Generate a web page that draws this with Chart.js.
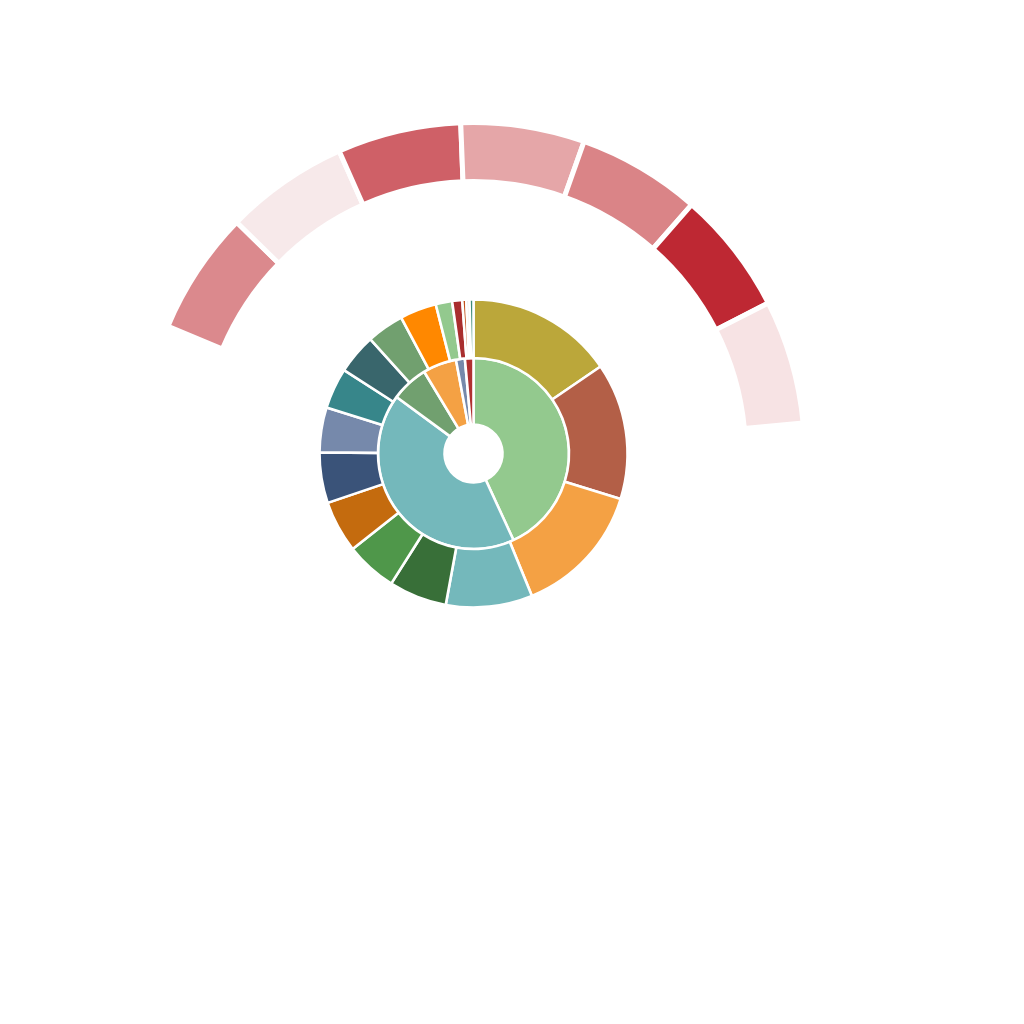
<!DOCTYPE html>
<html>
<head>
<meta charset="utf-8">
<script src="https://cdn.jsdelivr.net/npm/chart.js@4/dist/chart.umd.min.js"></script>
<style>
html,body{margin:0;padding:0;background:#fff;}
#wrap{position:relative;width:1024px;height:1024px;}
</style>
</head>
<body>
<div id="wrap"><canvas id="c"></canvas></div>
<script>
// Outer partial ring (7 equal bands)
const outerLabels = ['Band 1','Band 2','Band 3','Band 4','Band 5','Band 6','Band 7'];
const outerValues = [1, 1, 1, 1, 1, 1, 1];
const outerColors = ['#db898d','#f7e9ea','#cf6067','#e5a6a8','#da8487','#be2833','#f7e3e4'];

// Middle ring
const middleLabels = ['M1','M2','M3','M4','M5','M6','M7','M8','M9','M10','M11','M12','M13','M14','M15','M16','M17','M18'];
const middleValues = [55.6, 51.6, 50.5, 32.7, 21.9, 19.4, 19.6, 19.1, 17.0, 15.4, 15.1, 14.1, 13.8, 6.2, 3.8, 1.5, 1.2, 1.5];
const middleColors = ['#bba73a','#b35f47','#f4a144','#74b8bb','#386f38','#4f974a','#c46b0e','#3a5379','#7689ab','#37868a','#39666c','#71a06f','#ff8800','#93c98e','#a92e2e','#c1511c','#d3dbe0','#3d8a78'];

// Inner ring
const innerLabels = ['I1','I2','I3','I4','I5','I6'];
const innerValues = [155.2, 151.1, 22.6, 20.5, 5.4, 5.2];
const innerColors = ['#93c98e','#74b8bb','#71a06f','#f4a144','#7689ab','#b03030'];

new Chart(document.getElementById('c'), {
  type: 'doughnut',
  data: {
    labels: middleLabels,
    datasets: [
      {
        label: 'Outer',
        data: outerValues,
        backgroundColor: outerColors,
        borderColor: '#ffffff',
        borderWidth: 5,
        rotation: -67.4,
        circumference: 152.1,
        weight: 59
      },
      {
        label: 'Gap',
        data: [1],
        backgroundColor: 'rgba(0,0,0,0)',
        borderWidth: 0,
        weight: 118
      },
      {
        label: 'Middle',
        data: middleValues,
        backgroundColor: middleColors,
        borderColor: '#ffffff',
        borderWidth: 2.6,
        weight: 58.5
      },
      {
        label: 'Inner',
        data: innerValues,
        backgroundColor: innerColors,
        borderColor: '#ffffff',
        borderWidth: 2.6,
        weight: 66.5
      }
    ]
  },
  options: {
    responsive: true,
    maintainAspectRatio: false,
    animation: false,
    radius: 331,
    cutout: '8.76%',
    layout: { padding: { left: 0, right: 77, top: 0, bottom: 117 } },
    plugins: {
      legend: { display: false },
      tooltip: { enabled: false }
    }
  }
});
</script>
</body>
</html>
